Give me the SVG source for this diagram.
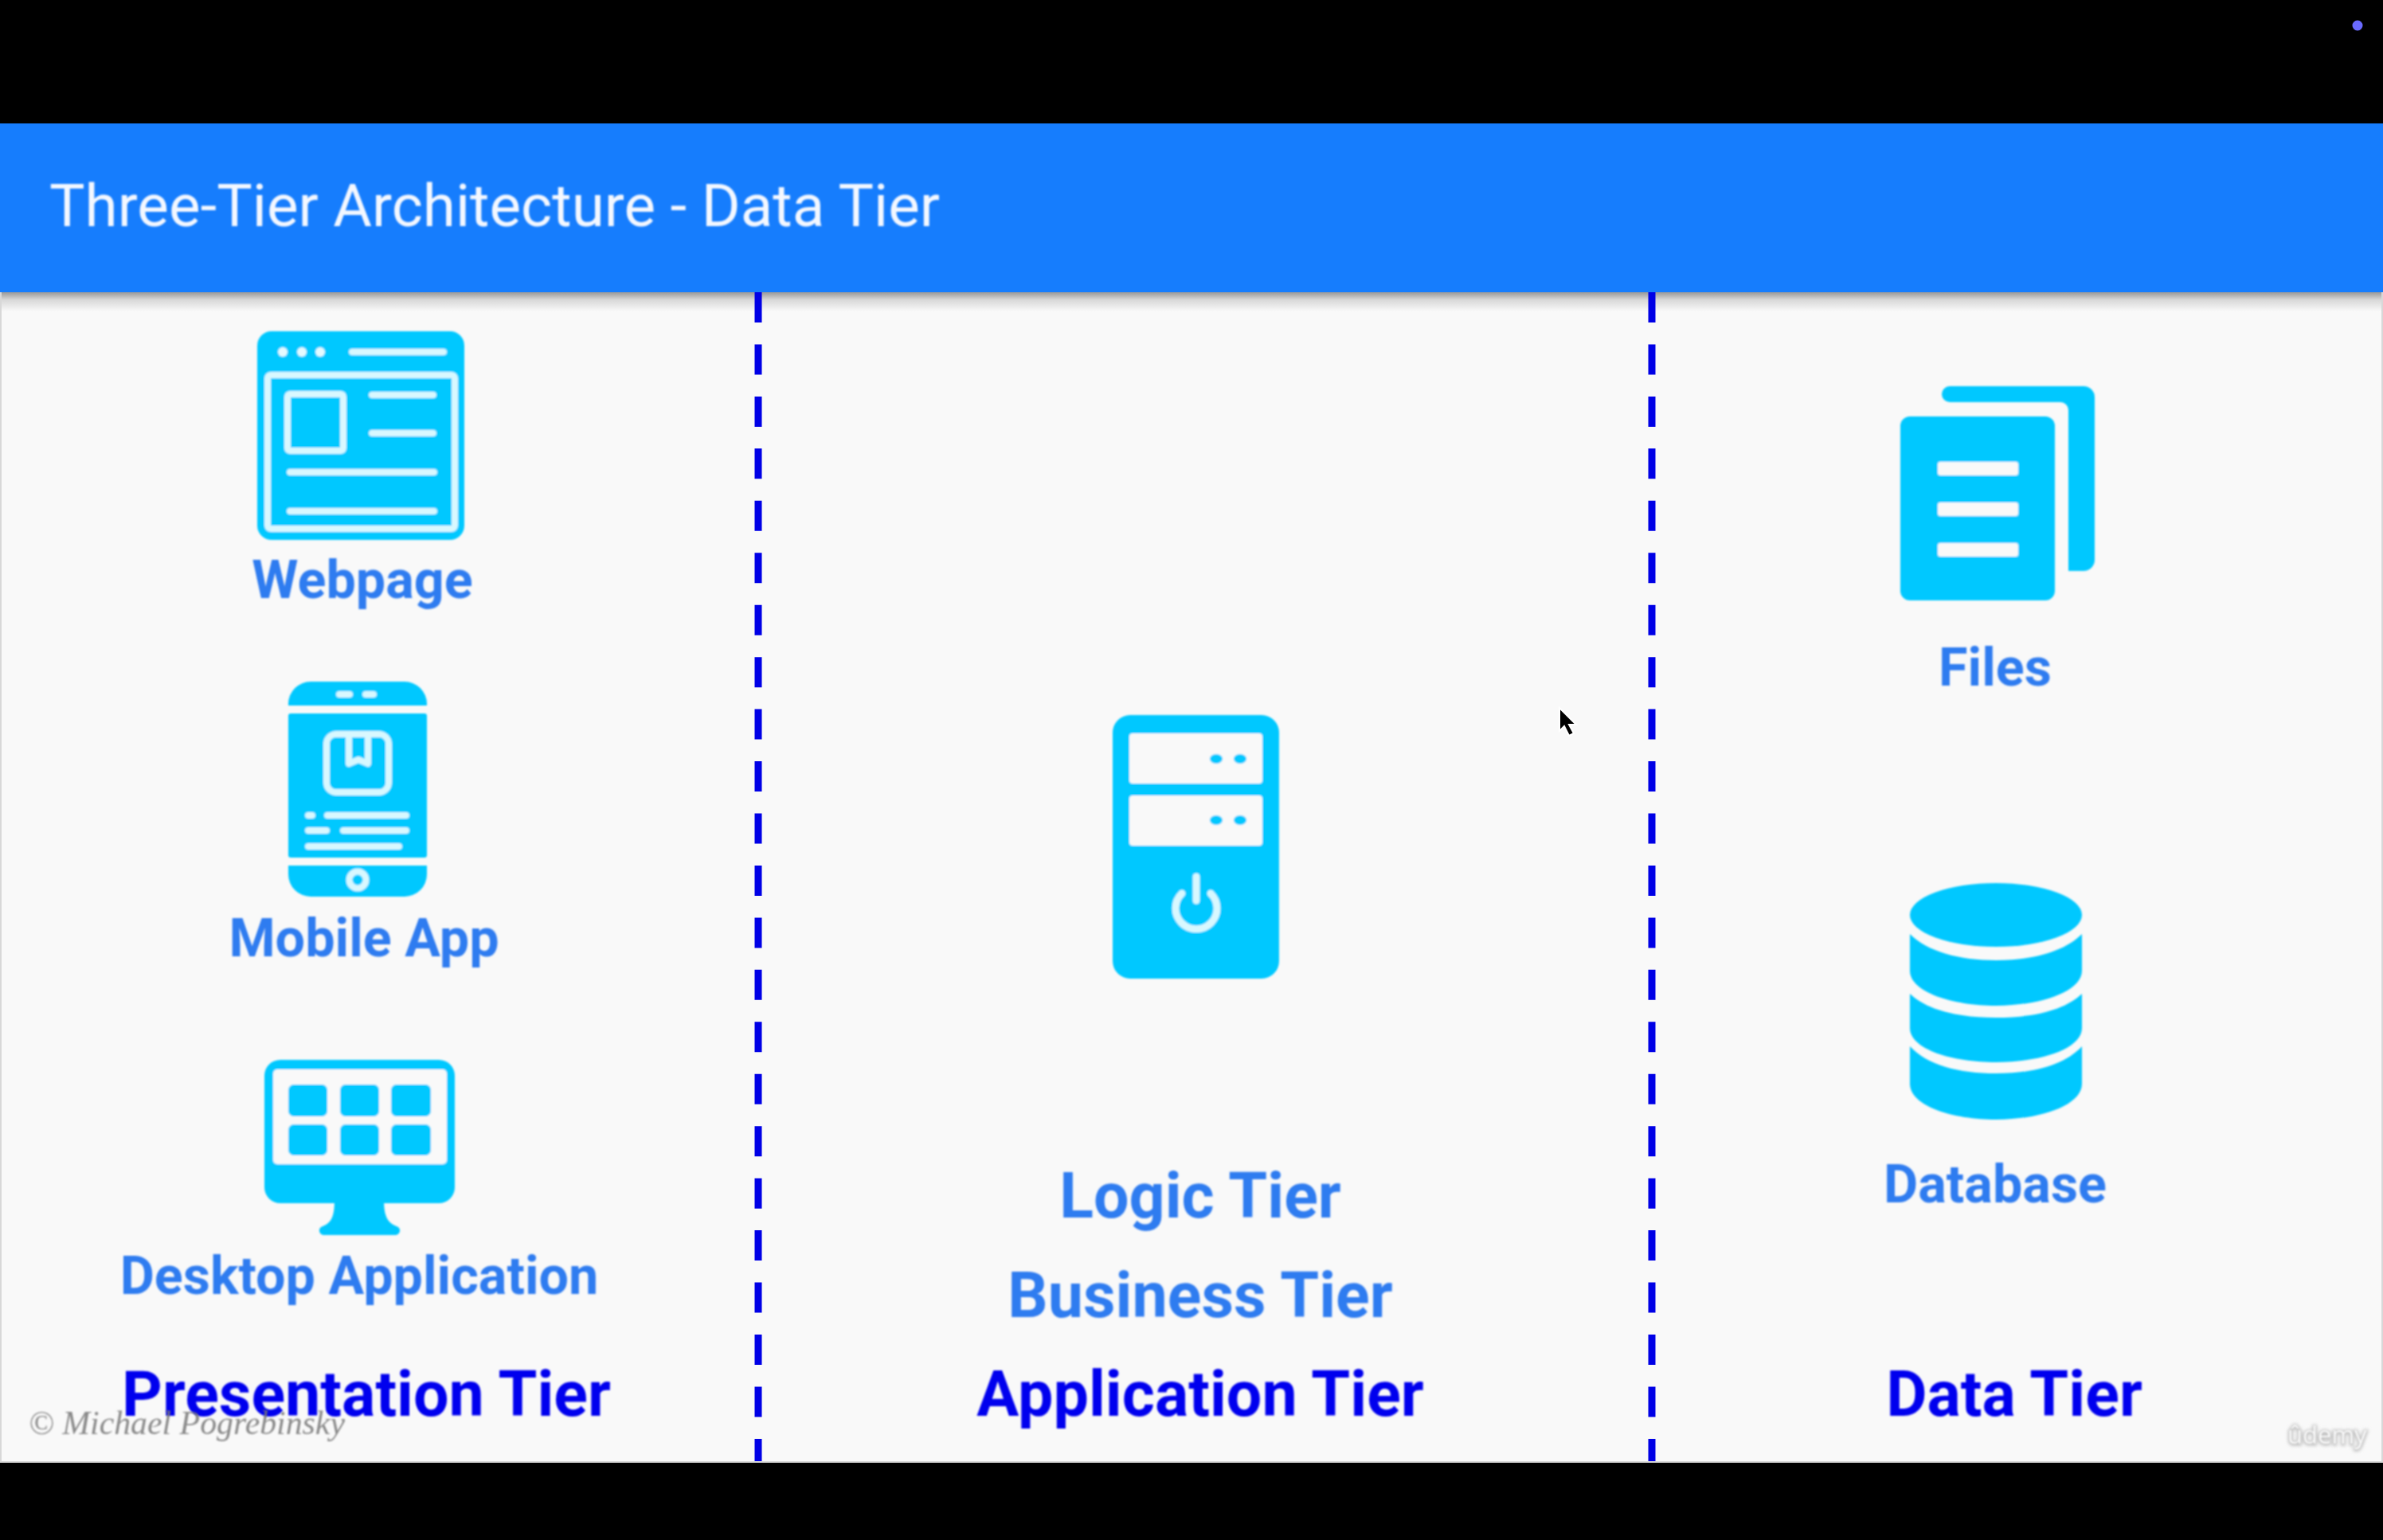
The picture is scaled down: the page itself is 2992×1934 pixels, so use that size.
<svg xmlns="http://www.w3.org/2000/svg" width="2992" height="1934" viewBox="0 0 2992 1934">
<style>
text{font-family:Roboto,"Liberation Sans",sans-serif}
.soft{filter:url(#soft)}
.ic{fill:#00c8ff}
.hl{fill:none;stroke:#d8f8ff;stroke-linecap:round;stroke-linejoin:round}
.bg{fill:#f9f9f9}
.lab{font-weight:700;font-size:66.5px;fill:#2f7bf0;text-anchor:middle}
.big{font-size:79px}
.tier{font-weight:700;font-size:79px;fill:#0000ee;text-anchor:middle}
.div{stroke:#0000e6;stroke-width:9;stroke-dasharray:38 27.45;fill:none}
</style>
<defs>
<filter id="soft" x="-5%" y="-5%" width="110%" height="110%"><feGaussianBlur stdDeviation="1.1"/></filter>
<filter id="uds" x="-20%" y="-20%" width="140%" height="140%"><feGaussianBlur stdDeviation="2"/></filter>
<linearGradient id="sh" x1="0" y1="0" x2="0" y2="1"><stop offset="0" stop-color="#999"/><stop offset=".4" stop-color="#d8d8d8"/><stop offset="1" stop-color="#f9f9f9"/></linearGradient>
</defs>
<rect width="2992" height="1934" fill="#000"/>
<circle id="status-dot" cx="2960" cy="32" r="6.5" fill="#6a6aff"/>
<rect x="0" y="155" width="2992" height="1682" fill="#d8d8d8"/>
<rect x="2" y="155" width="2988" height="1680" class="bg"/>
<rect x="2" y="367" width="2988" height="24" fill="url(#sh)"/>
<g id="header">
<rect x="0" y="155" width="2992" height="212" fill="#167dfd"/>
<text x="62" y="284" font-size="74.7" fill="#f4f8ff" class="soft">Three-Tier Architecture - Data Tier</text>
</g>
<g id="connectors">
<line class="div" x1="952" y1="367" x2="952" y2="1835"/>
<line class="div" x1="2074" y1="367" x2="2074" y2="1835"/>
</g>
<g id="webpage" class="soft">
<rect class="ic" x="323" y="416" width="260" height="262" rx="18"/>
<g class="hl" stroke-width="8">
<rect x="336" y="471" width="235" height="193" rx="4"/>
<rect x="361" y="495" width="70" height="71" rx="3"/>
<path d="M467 496H544M467 544H544M364 593H545M364 642H545M442 442H557"/>
</g>
<g fill="#e4faff"><circle cx="355" cy="442" r="6"/><circle cx="379" cy="442" r="6"/><circle cx="402" cy="442" r="6"/></g>
<text class="lab" x="455" y="751">Webpage</text>
</g>
<g id="mobile-app" class="soft">
<path class="ic" d="M362 886V884A28 28 0 0 1 390 856H508A28 28 0 0 1 536 884V886Z"/>
<rect class="ic" x="362" y="896" width="174" height="181" rx="3"/>
<path class="ic" d="M362 1087H536V1098A28 28 0 0 1 508 1126H390A28 28 0 0 1 362 1098Z"/>
<g class="hl" stroke-width="8">
<path d="M426 872H439M459 872H469"/>
<rect x="410" y="922" width="78" height="73" rx="12"/>
<path d="M438 922V959L450 954L462 959V922"/>
<path d="M387 1024H392M411 1024H510M387 1043H410M431 1043H510M387 1063H501"/>
<circle cx="449" cy="1105" r="10.5"/>
</g>
<text class="lab" x="457" y="1201">Mobile App</text>
</g>
<g id="desktop-application" class="soft">
<rect class="ic" x="332" y="1331" width="239" height="180" rx="20"/>
<rect class="bg" x="343" y="1343" width="218" height="119" rx="5"/>
<g class="ic">
<rect x="362" y="1362" width="49" height="40" rx="7"/><rect x="427" y="1362" width="49" height="40" rx="7"/><rect x="491" y="1362" width="50" height="40" rx="7"/>
<rect x="362" y="1412" width="49" height="39" rx="7"/><rect x="427" y="1412" width="49" height="39" rx="7"/><rect x="491" y="1412" width="50" height="39" rx="7"/>
</g>
<path class="ic" d="M420 1506H482C482 1531 488 1536 500 1541C504 1544 502 1551 496 1551H407C401 1551 399 1544 403 1541C415 1536 420 1531 420 1506Z"/>
<text class="lab" x="451" y="1625">Desktop Application</text>
</g>
<g id="server" class="soft">
<rect class="ic" x="1397" y="898" width="209" height="331" rx="22"/>
<rect class="bg" x="1418" y="921" width="167" height="63" rx="4"/>
<rect class="bg" x="1418" y="999" width="167" height="63" rx="4"/>
<g class="ic"><ellipse cx="1527" cy="953" rx="8" ry="6"/><ellipse cx="1557" cy="953" rx="8" ry="6"/><ellipse cx="1527" cy="1030" rx="8" ry="6"/><ellipse cx="1557" cy="1030" rx="8" ry="6"/></g>
<path class="hl" stroke-width="9" d="M1502 1101V1131M1484 1122A26 26 0 1 0 1520 1122"/>
</g>
<g id="logic-tier" class="soft">
<text class="lab big" x="1507" y="1529">Logic Tier</text>
<text class="lab big" x="1507" y="1654">Business Tier</text>
</g>
<g id="files" class="soft">
<path class="ic" d="M2448 485H2616A14 14 0 0 1 2630 499V703A14 14 0 0 1 2616 717H2597V515A10 10 0 0 0 2587 505H2448A10 10 0 0 1 2448 485Z"/>
<rect class="ic" x="2386" y="523" width="194" height="231" rx="12"/>
<g class="bg"><rect x="2433" y="580" width="101" height="17" rx="3"/><rect x="2433" y="631" width="101" height="17" rx="3"/><rect x="2433" y="682" width="101" height="17" rx="3"/></g>
<text class="lab" x="2505" y="861">Files</text>
</g>
<g id="database" class="soft">
<ellipse class="ic" cx="2506" cy="1149" rx="108" ry="40"/>
<path class="ic" d="M2398 1173C2420 1195 2460 1206 2506 1206C2552 1206 2592 1195 2614 1173V1219C2614 1246 2560 1263 2506 1263C2452 1263 2398 1246 2398 1219Z"/>
<path class="ic" d="M2398 1248C2420 1269 2460 1278 2506 1278C2552 1278 2592 1269 2614 1248V1291C2614 1318 2560 1334 2506 1334C2452 1334 2398 1318 2398 1291Z"/>
<path class="ic" d="M2398 1314C2420 1338 2460 1348 2506 1348C2552 1348 2592 1338 2614 1314V1361C2614 1389 2560 1406 2506 1406C2452 1406 2398 1389 2398 1361Z"/>
<text class="lab" x="2505" y="1510">Database</text>
</g>
<g id="tier-labels" class="soft">
<text class="tier" x="460" y="1778">Presentation Tier</text>
<text class="tier" x="1507" y="1778">Application Tier</text>
<text class="tier" x="2529" y="1778">Data Tier</text>
</g>
<text id="copyright" x="36" y="1801" font-size="41.8" font-style="italic" fill="#777" opacity=".85" class="soft" style="font-family:'Liberation Serif',serif">© Michael Pogrebinsky</text>
<g id="watermark">
<text x="2872" y="1814" font-size="31" fill="none" stroke="#bbb" stroke-width="3" filter="url(#uds)" style="font-family:'Open Sans',sans-serif">ûdemy</text>
<text x="2872" y="1813" font-size="31" fill="#fbfbfb" class="soft" style="font-family:'Open Sans',sans-serif">ûdemy</text>
</g>
<path id="cursor" d="M1958 889V918L1964 912L1970 924L1976 921L1970 910L1979 910Z" fill="#000" stroke="#fff" stroke-width="2"/>
</svg>
